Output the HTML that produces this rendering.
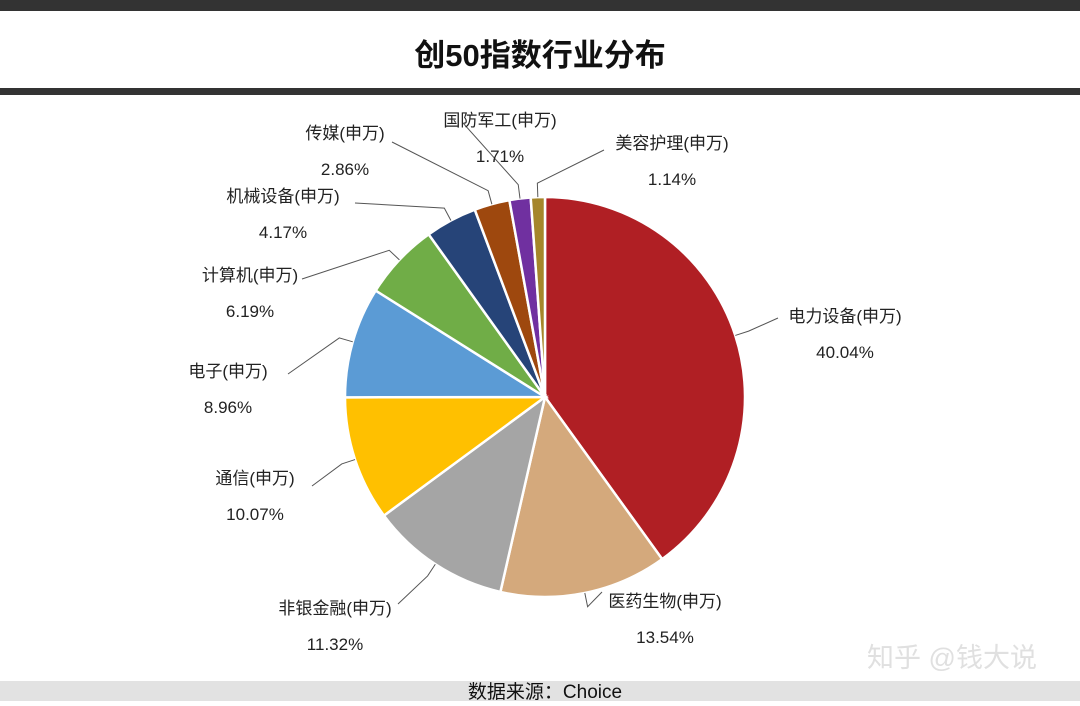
<!DOCTYPE html>
<html><head><meta charset="utf-8"><style>
body{margin:0;width:1080px;height:701px;overflow:hidden;background:#fff;font-family:"Liberation Sans","Noto Sans CJK SC",sans-serif}
svg text{font-family:"Liberation Sans","Noto Sans CJK SC",sans-serif}
</style></head><body>
<svg id="c" width="1080" height="701">
<rect x="0" y="0" width="1080" height="11" fill="#333"/>
<text x="540" y="66" text-anchor="middle" font-size="31" font-weight="bold" fill="#111">创50指数行业分布</text>
<rect x="0" y="88" width="1080" height="7" fill="#333"/>
<rect x="0" y="681" width="1080" height="20" fill="#e2e2e2"/>
<text x="545" y="698" text-anchor="middle" font-size="19" fill="#111">数据来源：Choice</text>
<text x="952" y="667" text-anchor="middle" font-size="27" fill="#e0e0e0">知乎 @钱大说</text>
<g id="slices"></g><g id="labels"></g>
</svg>
<script>
const categories=["电力设备(申万)","医药生物(申万)","非银金融(申万)","通信(申万)","电子(申万)","计算机(申万)","机械设备(申万)","传媒(申万)","国防军工(申万)","美容护理(申万)"];
const values=[40.04,13.54,11.32,10.07,8.96,6.19,4.17,2.86,1.71,1.14];
const valueLabels=["40.04%","13.54%","11.32%","10.07%","8.96%","6.19%","4.17%","2.86%","1.71%","1.14%"];
const colors=["#b01f24","#d4a97c","#a5a5a5","#ffc000","#5b9bd5","#70ad47","#264478","#9e480e","#7030a0","#a5862a"];
const labelPos=[[845,316],[665,601],[335,608],[255,478],[228,371],[250,275],[283,196],[345,133],[500,120],[672,143]];
const lineEnd=[[778,318],[602,592],[398,604],[312,486],[288,374],[302,279],[355,203],[392,142],[463,123],[604,150]];
const cx=545,cy=397,r=200,ns="http://www.w3.org/2000/svg";
const total=values.reduce((a,b)=>a+b,0);
const gS=document.getElementById('slices'),gL=document.getElementById('labels');
function pt(a,rr){return [cx+rr*Math.sin(a),cy-rr*Math.cos(a)];}
let a0=0;
values.forEach((v,i)=>{
 const a1=a0+v/total*2*Math.PI;
 const p0=pt(a0,r),p1=pt(a1,r),large=(a1-a0)>Math.PI?1:0;
 const p=document.createElementNS(ns,'path');
 p.setAttribute('d',`M${cx},${cy}L${p0[0]},${p0[1]}A${r},${r} 0 ${large} 1 ${p1[0]},${p1[1]}Z`);
 p.setAttribute('fill',colors[i]);p.setAttribute('stroke','#fff');p.setAttribute('stroke-width','2.5');
 
 
 gS.appendChild(p);
 const am=(a0+a1)/2,e=pt(am,r),[lx,ly]=labelPos[i],[ex,ey]=lineEnd[i];
 const m=pt(am,r+14);
 const l=document.createElementNS(ns,'polyline');
 l.setAttribute('points',`${e[0]},${e[1]} ${m[0]},${m[1]} ${ex},${ey}`);
 l.setAttribute('fill','none');l.setAttribute('stroke','#555');l.setAttribute('stroke-width','1');
 
 
 gL.appendChild(l);
 const t=document.createElementNS(ns,'text');
 t.setAttribute('x',lx);t.setAttribute('y',ly+6);t.setAttribute('text-anchor','middle');t.setAttribute('font-size','17');t.setAttribute('fill','#222');
 t.textContent=categories[i];
 
 
 gL.appendChild(t);
 const t2=document.createElementNS(ns,'text');
 t2.setAttribute('x',lx);t2.setAttribute('y',ly+42);t2.setAttribute('text-anchor','middle');t2.setAttribute('font-size','17');t2.setAttribute('fill','#222');
 t2.textContent=valueLabels[i];
 
 
 gL.appendChild(t2);
 a0=a1;
});
</script>
</body></html>
